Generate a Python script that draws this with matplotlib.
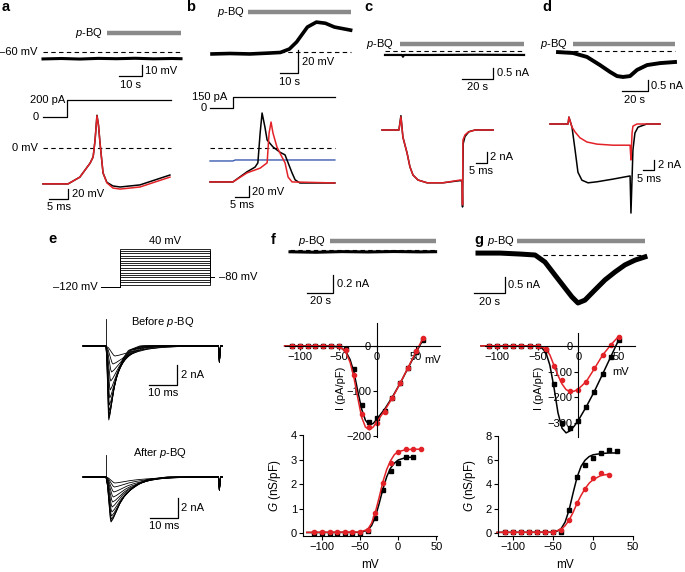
import numpy as np
import matplotlib
matplotlib.use('Agg')
import matplotlib.pyplot as plt

plt.rcParams['font.family'] = ['Liberation Sans', 'DejaVu Sans']
plt.rcParams['font.size'] = 8
plt.rcParams['mathtext.fontset'] = 'custom'
plt.rcParams['mathtext.it'] = 'Liberation Sans:italic'
plt.rcParams['mathtext.rm'] = 'Liberation Sans'

# ---- data ----
# a: resting potential (s, mV), current step (ms, pA), action potential (ms, mV)
a_top_t = [0, 8, 16, 24, 32, 40, 48, 56, 60]
a_top_v = [-66.3, -65.9, -66.4, -65.8, -66.1, -65.7, -66.2, -65.9, -66.1]
a_drug = [28, 60]
a_step_t = [0, 6.3, 6.3, 33.7]
a_step_i = [0, 0, 200, 200]
a_ap_t = [0, 6.6, 9.7, 12.4, 13.2, 13.7, 14.2, 14.6, 15.0, 15.8, 16.8, 18.4, 20.3, 25.5, 33.4]
a_ap_ctrl = [-69, -69, -56, -29, -17, 15, 63, 44, 10, -48, -66, -73, -75, -71, -52]
a_ap_pbq = [-69, -69, -56, -29, -17, 15, 62, 44, 10, -48, -67, -77, -79, -75, -56]

# b
b_top_t = [0, 10, 21, 32, 38, 43, 47, 53, 58, 63, 68, 77]
b_top_v = [-1.7, -1.3, -1.7, -0.9, -0.4, 2.6, 8.7, 21.7, 26, 25, 21.7, 19]
b_drug = [20, 77]
b_step_t = [0, 8.2, 8.2, 44.6]
b_step_i = [0, 0, 150, 150]
b_ctrl_t = [0, 8.2, 13.2, 16.1, 17.1, 17.9, 18.6, 19.6, 20.4, 22.5, 25.0, 26.8, 27.9, 29.3, 30.4, 32.1, 44.6]
b_ctrl_v = [-64, -64, -45, -36, -28, 28, 66, 40, 15, 2, -8, -13, -28, -47, -60, -66, -66]
b_pbq_t = [0, 8.2, 13.2, 17.9, 20.4, 21.1, 21.8, 22.5, 23.9, 25.7, 26.8, 27.9, 29.3, 44.6]
b_pbq_v = [-64, -64, -47, -38, -28, 28, 49, 28, 2, -17, -28, -55, -64, -66]
b_blue_t = [0, 8.2, 9.0, 44.6]
b_blue_v = [-24.5, -24.5, -22.6, -22.6]

# c (s, nA) and (ms, nA)
c_top_t = [0, 11, 11.6, 12.2, 30, 60, 89.7]
c_top_i = [-0.18, -0.18, -0.26, -0.18, -0.18, -0.17, -0.18]
c_drug = [9.7, 89.7]
c_ctrl_t = [0, 7.7, 8.6, 9.5, 11.4, 12.7, 14.1, 16.4, 20.5, 27.7, 35.5, 36.4, 36.6, 36.9, 37.7, 39.5, 42.3, 50.5]
c_ctrl_i = [0, 0, 2.6, -1.3, -4.2, -6.7, -8.2, -9.1, -9.6, -9.6, -9.2, -9.3, -14.0, -2.5, -1.2, -0.3, 0, 0]
c_pbq_t = [0, 7.7, 8.6, 9.5, 11.4, 12.7, 14.1, 16.4, 20.5, 27.7, 35.5, 36.4, 36.6, 36.8, 37.7, 39.1, 42.3, 50.5]
c_pbq_i = [0, 0, 2.4, -1.3, -4.2, -6.7, -8.2, -9.1, -9.6, -9.6, -9.1, -9.1, -13.6, -1.8, -0.9, -0.4, 0, 0]

# d
d_top_t = [0, 11.5, 22.3, 32.3, 40, 45.4, 50, 55.4, 60.8, 68.5, 78.5, 90]
d_top_i = [-0.05, -0.09, -0.27, -0.64, -0.95, -1.14, -1.18, -1.14, -0.86, -0.64, -0.55, -0.5]
d_drug = [11.5, 90]
d_ctrl_t = [0, 8.2, 8.6, 10, 11.4, 12.7, 14.5, 17.3, 21.4, 28.6, 36.4, 36.8, 37.7, 38.6, 40, 44, 50]
d_ctrl_i = [0, 0, 1.3, -0.6, -4.9, -9.1, -10.6, -11.1, -10.9, -10.4, -9.8, -16.8, -4.9, -1.7, -0.6, 0, 0]
d_pbq_t = [0, 8.2, 8.6, 10, 11.4, 13.6, 16.8, 21.4, 28.6, 36.4, 36.8, 37.3, 37.7, 39.5, 50]
d_pbq_i = [0, 0, 1.3, -0.6, -1.5, -2.6, -3.4, -3.8, -4.0, -4.0, -6.8, -1.7, -0.4, 0, 0]

# e: voltage protocol and Na current families (template shape scaled per trace)
e_levels = [-110, -100, -90, -80, -70, -60, -50, -40, -30, -20, -10, 0, 10, 20, 30, 40]
e_shape_t = [0, 0.3, 0.6, 0.85, 1.0, 1.4, 2.0, 2.7, 3.5, 4.5, 6.0, 8.0, 12.0]
e_shape_i = [0, -0.2, -0.6, -0.92, -1.0, -0.93, -0.78, -0.6, -0.45, -0.32, -0.17, -0.06, 0]
e_before_amp = [7.4, 7.2, 6.9, 6.5, 5.9, 5.2, 4.4, 3.5, 2.6, 1.8, 1.0]
e_before_scale = [1.0, 1.05, 1.1, 1.15, 1.25, 1.35, 1.5, 1.7, 2.0, 2.5, 3.2]
e_after_amp = [4.5, 4.4, 4.2, 3.9, 3.5, 3.0, 2.5, 2.0, 1.5, 1.0, 0.6]
e_after_scale = [1.8, 1.85, 1.9, 2.0, 2.1, 2.2, 2.4, 2.6, 2.8, 3.0, 3.2]

# f
f_top_t = [0, 20, 40, 60, 80, 100, 112]
f_top_i = [-0.02, -0.025, -0.018, -0.022, -0.017, -0.021, -0.019]
f_drug = [30.8, 112]
f_iv_v = [-110, -100, -90, -80, -70, -60, -50, -40, -30, -20, -10, 0, 10, 20, 30, 40, 50, 60]
f_iv_ctrl = [0, 0, 0, 0, 0, 0, -1, -6, -50, -130, -168, -160, -145, -115, -83, -48, -14, 14]
f_iv_pbq = [0, 0, 0, 0, 0, 0, -1, -8, -64, -150, -180, -172, -146, -115, -83, -48, -12, 18]
f_fit_v = [-120, -60, -50, -45, -40, -35, -30, -25, -20, -15, -10, -5, 0, 10, 20, 30, 40, 50, 60]
f_fit_ctrl = [0, 0, -2, -6, -14, -30, -58, -100, -140, -165, -175, -172, -162, -140, -113, -83, -50, -17, 15]
f_fit_pbq = [0, 0, -2, -6, -16, -36, -70, -115, -158, -180, -186, -180, -168, -143, -115, -83, -49, -15, 18]
f_g_v_ctrl = [-110, -100, -90, -80, -70, -60, -50, -40, -30, -20, -10, 0, 10, 20]
f_g_ctrl = [0.02, 0.02, 0.02, 0.02, 0.02, 0.02, 0.02, 0.1, 0.62, 1.75, 2.55, 2.85, 3.1, 3.1]
f_g_v_pbq = [-110, -100, -90, -80, -70, -60, -50, -40, -30, -20, -10, 0, 10, 20, 30]
f_g_pbq = [0.04, 0.04, 0.04, 0.04, 0.04, 0.04, 0.04, 0.12, 0.8, 2.05, 2.85, 3.3, 3.42, 3.42, 3.42]
f_gfit_ctrl_v = [-120, -50, -40, -35, -30, -25, -20, -15, -10, -5, 0, 10, 20]
f_gfit_ctrl = [0.02, 0.03, 0.12, 0.3, 0.65, 1.2, 1.8, 2.3, 2.65, 2.85, 2.98, 3.08, 3.1]
f_gfit_pbq_v = [-120, -50, -40, -35, -30, -25, -20, -15, -10, -5, 0, 10, 20, 30]
f_gfit_pbq = [0.03, 0.04, 0.15, 0.4, 0.85, 1.45, 2.1, 2.6, 2.95, 3.2, 3.32, 3.4, 3.42, 3.42]

# g
g_top_t = [0, 14.2, 27.1, 36.8, 43.2, 49.7, 56.1, 60.6, 64.5, 69, 75.5, 81.9, 88.4, 94.8, 101.3, 107.7]
g_top_i = [0.06, 0.06, 0.03, 0, -0.22, -0.63, -1.03, -1.31, -1.5, -1.41, -1.09, -0.78, -0.53, -0.31, -0.16, -0.06]
g_drug = [25.2, 107.7]
g_iv_v = [-110, -100, -90, -80, -70, -60, -50, -40, -30, -20, -10, 0, 10, 20, 30, 40, 50]
g_iv_ctrl = [0, 0, 0, 0, 0, 0, -2, -15, -150, -300, -318, -292, -236, -180, -110, -44, 23]
g_iv_pbq = [0, 0, 0, 0, 0, 0, -1, -13, -80, -132, -174, -171, -139, -87, -35, 4, 36]
g_fit_v = [-120, -55, -50, -45, -40, -35, -30, -25, -20, -15, -10, -5, 0, 10, 20, 30, 40, 50]
g_fit_ctrl = [0, 0, -2, -8, -25, -75, -160, -260, -320, -338, -330, -312, -290, -236, -176, -110, -43, 24]
g_fit_pbq = [0, 0, -1, -4, -12, -35, -75, -115, -148, -170, -178, -176, -168, -138, -88, -36, 3, 38]
g_g_v_ctrl = [-110, -100, -90, -80, -70, -60, -50, -40, -30, -20, -10, 0, 10, 20, 30]
g_g_ctrl = [0.05, 0.05, 0.05, 0.05, 0.05, 0.05, 0.05, 0.1, 1.9, 4.6, 5.6, 6.2, 6.6, 6.85, 6.8]
g_g_v_pbq = [-110, -100, -90, -80, -70, -60, -50, -40, -30, -20, -10, 0, 10, 20]
g_g_pbq = [0.05, 0.05, 0.05, 0.05, 0.05, 0.05, 0.05, 0.25, 1.05, 2.45, 3.6, 4.5, 4.95, 4.8]
g_gfit_ctrl_v = [-120, -50, -45, -40, -35, -30, -25, -20, -15, -10, -5, 0, 10, 20, 30]
g_gfit_ctrl = [0.05, 0.06, 0.15, 0.35, 0.9, 1.9, 3.3, 4.6, 5.5, 6.0, 6.3, 6.45, 6.55, 6.6, 6.6]
g_gfit_pbq_v = [-120, -50, -40, -35, -30, -25, -20, -15, -10, -5, 0, 10, 20]
g_gfit_pbq = [0.05, 0.07, 0.3, 0.6, 1.05, 1.7, 2.45, 3.1, 3.65, 4.1, 4.4, 4.75, 4.85]

# ---- drawing ----
W, H = 685, 572
RED = '#e32228'
BLUE = '#3a5bb0'
GREY = '#8a8a8a'
PBQ = r'$\mathit{p}$-BQ'

fig = plt.figure(figsize=(W / 100, H / 100), dpi=100)


def trace_ax(x0, x1, y0, y1, xref, yref, sx, sy):
    # pixel box, one pixel->data anchor per axis, pixels per data unit
    ax = fig.add_axes([x0 / W, 1 - y1 / H, (x1 - x0) / W, (y1 - y0) / H])
    ax.set_xlim(xref[1] + (x0 - xref[0]) / sx, xref[1] + (x1 - xref[0]) / sx)
    ax.set_ylim(yref[1] + (yref[0] - y1) / sy, yref[1] + (yref[0] - y0) / sy)
    ax.axis('off')
    return ax


def drug(ax, t, y, tx):
    ax.plot(t, [y, y], color=GREY, lw=3.2, solid_capstyle='butt', clip_on=False)
    ax.text(tx, y, PBQ, ha='right', va='center')


def dash(ax, t0, t1, y):
    ax.plot([t0, t1], [y, y], color='k', lw=0.8, dashes=(4, 3), clip_on=False)


def scalebar(ax, x, y, dx, dy, xlab, ylab):
    ax.plot([x - dx, x, x], [y, y, y + dy], color='k', lw=0.9, clip_on=False)
    ax.annotate(ylab, (x, y + dy / 2), xytext=(2.5, 0), textcoords='offset points',
                ha='left', va='center', annotation_clip=False)
    ax.annotate(xlab, (x - dx / 2, y), xytext=(0, -2.5), textcoords='offset points',
                ha='center', va='top', annotation_clip=False)


def line(ax, t, v, c='k', lw=1.1):
    ax.plot(t, v, color=c, lw=lw, clip_on=False, solid_joinstyle='round')


for lab, x, y in [('a', 2, 7), ('b', 186, 7), ('c', 364, 7), ('d', 542, 7),
                  ('e', 48, 239), ('f', 271, 240), ('g', 474, 240)]:
    fig.text(x / W, 1 - y / H, lab, fontsize=10.5, fontweight='bold', va='center')

# a
ax = trace_ax(40, 185, 25, 95, (43, 0), (52, -60), 2.3, 1.1)
drug(ax, a_drug, -42.7, 26)
dash(ax, 0, 60, -60)
ax.text(-2.5, -60, '–60 mV', ha='right', va='center')
line(ax, a_top_t, a_top_v, lw=2.2)
scalebar(ax, 43, -82, 10, 10, '10 s', '10 mV')

ax = trace_ax(20, 175, 92, 122, (43, 0), (117, 0), 3.8, 17 / 200)
line(ax, a_step_t, a_step_i, lw=0.9)
ax.text(5.8, 200, '200 pA', ha='right', va='center')
ax.text(-1.2, 0, '0', ha='right', va='center')

ax = trace_ax(20, 175, 115, 200, (43, 0), (148, 0), 3.8, 0.52)
dash(ax, 0, 33.7, 0)
ax.text(-1.3, 0, '0 mV', ha='right', va='center')
line(ax, a_ap_t, a_ap_ctrl, 'k')
line(ax, a_ap_t, a_ap_pbq, RED)
scalebar(ax, 6.6, -98, 5, 20, '5 ms', '20 mV')

# b
ax = trace_ax(205, 355, 5, 90, (212, 0), (52, 0), 1.8, 1.15)
drug(ax, b_drug, 34.8, 18.3)
dash(ax, 38, 77, 0)
line(ax, b_top_t, b_top_v, lw=2.6)
scalebar(ax, 47.8, -18.3, 10, 20, '10 s', '20 mV')

ax = trace_ax(190, 340, 92, 115, (210, 0), (108, 0), 2.8, 11 / 150)
line(ax, b_step_t, b_step_i, lw=0.9)
ax.text(6.1, 150, '150 pA', ha='right', va='center')
ax.text(-1.3, 0, '0', ha='right', va='center')

ax = trace_ax(190, 340, 105, 200, (210, 0), (148, 0), 2.8, 0.53)
dash(ax, 0, 44.6, 0)
line(ax, b_blue_t, b_blue_v, BLUE, lw=1.0)
line(ax, b_ctrl_t, b_ctrl_v, 'k')
line(ax, b_pbq_t, b_pbq_v, RED)
scalebar(ax, 13.9, -92.5, 5, 20, '5 ms', '20 mV')

# c
ax = trace_ax(380, 530, 35, 100, (385, 0), (51, 0), 1.55, 22)
drug(ax, c_drug, 0.32, 5.8)
dash(ax, 0, 89.7, 0)
line(ax, c_top_t, c_top_i, lw=1.6)
scalebar(ax, 69.7, -1.27, 20, 0.5, '20 s', '0.5 nA')

ax = trace_ax(375, 500, 110, 210, (382, 0), (130, 0), 2.2, 5.5)
line(ax, c_ctrl_t, c_ctrl_i, 'k')
line(ax, c_pbq_t, c_pbq_i, RED)
scalebar(ax, 47.7, -6, 5, 2, '5 ms', '2 nA')

# d
ax = trace_ax(550, 685, 35, 105, (558, 0), (51, 0), 1.3, 22)
drug(ax, d_drug, 0.32, 7.7)
dash(ax, 0, 90, 0)
line(ax, d_top_t, d_top_i, lw=2.8)
scalebar(ax, 69.2, -1.82, 20, 0.5, '20 s', '0.5 nA')

ax = trace_ax(545, 685, 110, 220, (550, 0), (124, 0), 2.2, 5.3)
line(ax, d_ctrl_t, d_ctrl_i, 'k')
line(ax, d_pbq_t, d_pbq_i, RED)
scalebar(ax, 47.3, -8.7, 5, 2, '5 ms', '2 nA')

# e protocol
ax = trace_ax(95, 220, 245, 290, (120, 0), (287, -120), 2.25, 0.24)
for lv in e_levels:
    ax.plot([-8.4, 0, 0, 40, 40, 41.8], [-120, -120, lv, lv, -80, -80],
            color='k', lw=0.6, clip_on=False)
ax.annotate('40 mV', (20, 40), xytext=(0, 2), textcoords='offset points',
            ha='center', va='bottom', annotation_clip=False)
ax.text(-9.8, -120, '–120 mV', ha='right', va='center')
ax.text(44, -80, '–80 mV', ha='left', va='center')


def na_family(ax, amps, scales, up, tail):
    shape_t = np.array(e_shape_t)
    shape_i = np.array(e_shape_i)
    for A, s in zip(amps, scales):
        t = np.concatenate([[-8.2, 0], shape_t * s, [40.2, 40.5, 40.9, 41.5]])
        i = np.concatenate([[0, 0], shape_i * A, [0, tail, 0, 0]])
        ax.plot(t, i, color='k', lw=0.6, clip_on=False)
    ax.plot([0, 0], [0, up], color='k', lw=0.6)


ax = trace_ax(80, 225, 310, 430, (106, 0), (346, 0), 2.8, 10)
na_family(ax, e_before_amp, e_before_scale, 2.7, -1.6)
ax.text(20.4, 2.4, 'Before ' + PBQ, ha='center', va='center')
scalebar(ax, 25.4, -3.9, 10, 2, '10 ms', '2 nA')

ax = trace_ax(80, 225, 445, 540, (106, 0), (477, 0), 2.8, 10)
na_family(ax, e_after_amp, e_after_scale, 2.2, -1.3)
ax.text(19.3, 2.4, 'After ' + PBQ, ha='center', va='center')
scalebar(ax, 25.7, -4.1, 10, 2, '10 ms', '2 nA')

# f, g top traces
ax = trace_ax(285, 440, 235, 305, (290, 0), (250, 0), 1.3, 90)
drug(ax, f_drug, 0.1, 27.7)
dash(ax, 0, 112, 0)
line(ax, f_top_t, f_top_i, lw=2.2)
scalebar(ax, 33.1, -0.478, 20, 0.2, '20 s', '0.2 nA')

ax = trace_ax(470, 650, 235, 310, (478, 0), (255, 0), 1.55, 32)
drug(ax, g_drug, 0.44, 23.4)
dash(ax, 41.9, 107.7, 0)
line(ax, g_top_t, g_top_i, lw=3.6)
scalebar(ax, 17.4, -1.19, 20, 0.5, '20 s', '0.5 nA')


def plot_ax(x0, x1, y0, y1, xlim, ylim, yticks, centred):
    ax = fig.add_axes([x0 / W, 1 - y1 / H, (x1 - x0) / W, (y1 - y0) / H])
    ax.set_xlim(xlim)
    ax.set_ylim(ylim)
    ax.patch.set_visible(False)
    ax.spines[['top', 'right']].set_visible(False)
    for s in ax.spines.values():
        s.set_linewidth(0.8)
    if centred:
        ax.spines['left'].set_position(('data', 0))
        ax.spines['bottom'].set_position(('data', 0))
    ax.set_xticks([-100, -50, 0, 50])
    ax.set_yticks(yticks)
    ax.tick_params(length=3, width=0.8, pad=1.2, labelsize=8)
    return ax


def series(ax, v, y, fv, fy, c, m):
    ax.plot(fv, fy, color=c, lw=1.1, clip_on=False)
    ax.plot(v, y, m, color=c, ms=3.0, clip_on=False, lw=0)


ax = plot_ax(285, 440, 323, 437, (-119.5, 81.8), (-202, 51), [0, -100, -200], True)
series(ax, f_iv_v, f_iv_ctrl, f_fit_v, f_fit_ctrl, 'k', 's')
series(ax, f_iv_v, f_iv_pbq, f_fit_v, f_fit_pbq, RED, 'o')
fig.text(341 / W, 1 - 388 / H, 'I (pA/pF)', rotation=90, ha='center', va='center', fontsize=8)
fig.text(433 / W, 1 - 360 / H, 'mV', ha='center', va='center', fontsize=8)

ax = plot_ax(485, 635, 333, 437, (-115, 70), (-354, 50), [0, -100, -200, -300], True)
series(ax, g_iv_v, g_iv_ctrl, g_fit_v, g_fit_ctrl, 'k', 's')
series(ax, g_iv_v, g_iv_pbq, g_fit_v, g_fit_pbq, RED, 'o')
fig.text(539 / W, 1 - 388 / H, 'I (pA/pF)', rotation=90, ha='center', va='center', fontsize=8)
fig.text(621 / W, 1 - 372 / H, 'mV', ha='center', va='center', fontsize=8)

ax = plot_ax(303, 437, 435, 536, (-125, 51), (-0.12, 4), [0, 1, 2, 3, 4], False)
series(ax, f_g_v_ctrl, f_g_ctrl, f_gfit_ctrl_v, f_gfit_ctrl, 'k', 's')
series(ax, f_g_v_pbq, f_g_pbq, f_gfit_pbq_v, f_gfit_pbq, RED, 'o')
ax.set_xlabel('mV', fontsize=8.5, labelpad=5)
ax.set_ylabel(r'$\mathit{G}$ (nS/pF)', fontsize=8.5, labelpad=6)

ax = plot_ax(498, 633, 436, 536, (-119, 50), (-0.25, 8), [0, 2, 4, 6, 8], False)
series(ax, g_g_v_ctrl, g_g_ctrl, g_gfit_ctrl_v, g_gfit_ctrl, 'k', 's')
series(ax, g_g_v_pbq, g_g_pbq, g_gfit_pbq_v, g_gfit_pbq, RED, 'o')
ax.set_xlabel('mV', fontsize=8.5, labelpad=5)
ax.set_ylabel(r'$\mathit{G}$ (nS/pF)', fontsize=8.5, labelpad=6)

fig.savefig('out.png', dpi=100)
